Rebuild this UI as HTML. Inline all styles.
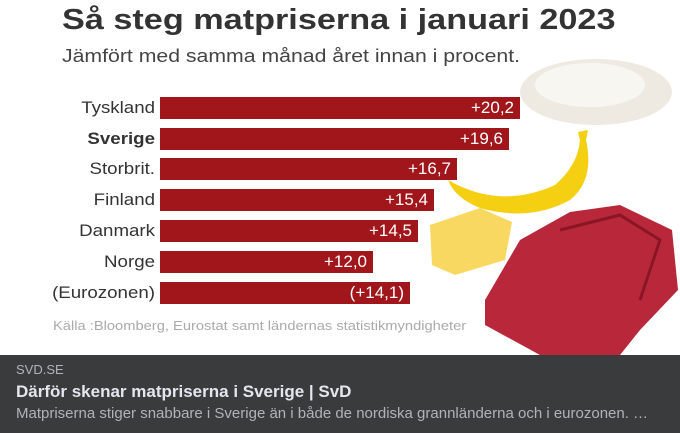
<!DOCTYPE html>
<html><head><meta charset="utf-8"><style>
body{margin:0;width:680px;height:433px;overflow:hidden;background:#fff;font-family:"Liberation Sans",sans-serif;position:relative}
.t{position:absolute;white-space:nowrap;transform-origin:0 0}
.bar{position:absolute;left:160px;height:22px;background:#a0161b}
.v{position:absolute;right:6px;top:1px;color:#fff;font-size:17px}
.l{position:absolute;right:525px;width:200px;text-align:right;font-size:17px;color:#333;transform:scaleX(1.1);transform-origin:100% 0}
</style></head><body>
<svg width="680" height="355" style="position:absolute;left:0;top:0">
<ellipse cx="596" cy="92" rx="76" ry="33" fill="#eeeae2"/>
<ellipse cx="590" cy="85" rx="55" ry="22" fill="#f8f6f1"/>
<path d="M448 180 Q500 210 555 185 Q578 165 580 140 L578 132 L588 130 L586 140 Q595 180 570 200 Q530 222 480 208 Q455 198 448 180Z" fill="#f4cf12"/>
<path d="M430 225 L480 208 L512 222 L505 260 L455 275 L432 265Z" fill="#f8d860"/>
<path d="M485 300 L520 240 L570 212 L620 205 L672 230 L678 290 L640 330 L620 355 L540 355 L485 325Z" fill="#b8283a"/>
<path d="M560 230 L620 215 L660 240 L640 300" stroke="#8a1525" stroke-width="3" fill="none"/>
</svg>
<div class="t" style="left:62px;top:4px;font-size:29px;font-weight:bold;color:#333;transform:scaleX(1.18)">Så steg matpriserna i januari 2023</div>
<div class="t" style="left:62px;top:46px;font-size:18px;color:#444;transform:scaleX(1.18)">Jämfört med samma månad året innan i procent.</div>
<div class="l" style="top:98px">Tyskland</div><div class="bar" style="top:97px;width:360px"><span class="v">+20,2</span></div>
<div class="l" style="top:129px;font-weight:bold">Sverige</div><div class="bar" style="top:128px;width:349px"><span class="v">+19,6</span></div>
<div class="l" style="top:159px">Storbrit.</div><div class="bar" style="top:158px;width:297px"><span class="v">+16,7</span></div>
<div class="l" style="top:190px">Finland</div><div class="bar" style="top:189px;width:274px"><span class="v">+15,4</span></div>
<div class="l" style="top:221px">Danmark</div><div class="bar" style="top:220px;width:258px"><span class="v">+14,5</span></div>
<div class="l" style="top:252px">Norge</div><div class="bar" style="top:251px;width:213px"><span class="v">+12,0</span></div>
<div class="l" style="top:283px">(Eurozonen)</div><div class="bar" style="top:282px;width:250px"><span class="v">(+14,1)</span></div>
<div class="t" style="left:53px;top:318px;font-size:13px;color:#aaa;transform:scaleX(1.13)">Källa :Bloomberg, Eurostat samt ländernas statistikmyndigheter</div>
<div style="position:absolute;left:0;top:355px;width:680px;height:78px;background:#3a3b3d"></div>
<div class="t" style="left:16px;top:362px;font-size:13px;color:#b0b3b8">SVD.SE</div>
<div class="t" style="left:16px;top:382px;font-size:17px;font-weight:bold;color:#e4e6eb">Därför skenar matpriserna i Sverige | SvD</div>
<div class="t" style="left:16px;top:405px;font-size:15px;color:#b0b3b8">Matpriserna stiger snabbare i Sverige än i både de nordiska grannländerna och i eurozonen. …</div>
</body></html>
